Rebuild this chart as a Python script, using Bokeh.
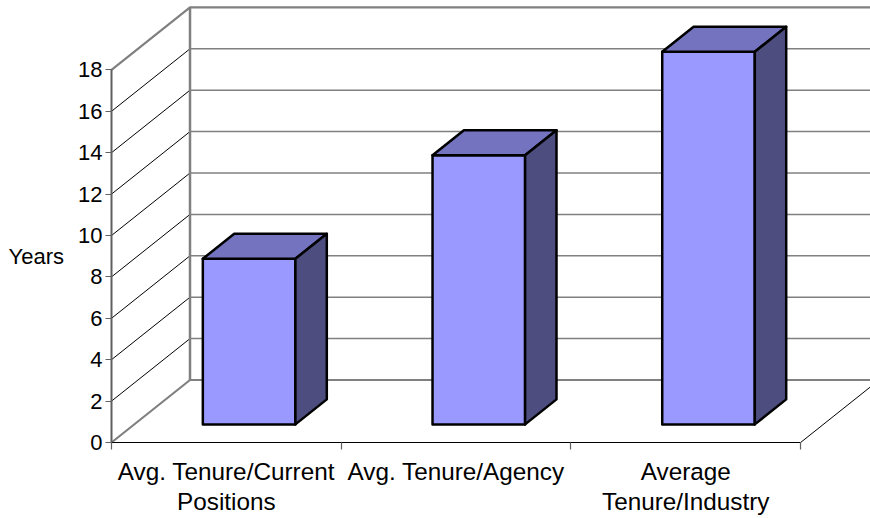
from bokeh.embed import file_html
from bokeh.models import FixedTicker, LinearAxis, Range1d
from bokeh.plotting import figure
from bokeh.resources import INLINE
from bokeh.core.properties import value

categories = ["Avg. Tenure/Current\nPositions", "Avg. Tenure/Agency", "Average\nTenure/Industry"]
years = [8, 13, 18]
value_ticks = [0, 2, 4, 6, 8, 10, 12, 14, 16, 18]
y_title = "Years"

# Pixels per data unit, and the oblique shift of one full unit of chart depth.
X_SCALE, Y_SCALE = 229.7, 20.7
DEPTH_X, DEPTH_Y = 78.5 / X_SCALE, 62.5 / Y_SCALE
BAR_WIDTH = 0.403
BAR_NEAR, BAR_FAR = 0.29, 0.69
FONT = "Liberation Sans"
N = len(categories)
TOP = value_ticks[-1]


def project(x, v, d):
    return x + d * DEPTH_X, v + d * DEPTH_Y


p = figure(width=870, height=518, output_backend="svg", toolbar_location=None,
           x_range=Range1d(-111 / X_SCALE, 759 / X_SCALE),
           y_range=Range1d(-76 / Y_SCALE, 442 / Y_SCALE),
           x_axis_type=None, y_axis_type=None,
           min_border_left=0, min_border_right=0, min_border_top=0, min_border_bottom=0)
p.outline_line_color = None
p.grid.visible = False
p.background_fill_color = "white"

# Side wall rungs and back wall gridlines.
for v in value_ticks[1:-1]:
    a, b = project(0, v, 0), project(0, v, 1)
    p.line([a[0], b[0]], [a[1], b[1]], line_color="#000000", line_width=1)
    c = project(N + 1, v, 1)
    p.line([b[0], c[0]], [b[1], c[1]], line_color="#808080", line_width=1.5)

# Wall frame and floor edges.
for v in (0, TOP):
    a, b = project(0, v, 0), project(0, v, 1)
    c = project(N + 1, v, 1)
    p.line([a[0], b[0], c[0]], [a[1], b[1], c[1]], line_color="#808080", line_width=2.2)
a, b = project(0, 0, 1), project(0, TOP, 1)
p.line([a[0], b[0]], [a[1], b[1]], line_color="#808080", line_width=2.5)
a, b = project(N, 0, 0), project(N, 0, 1)
p.line([a[0], b[0]], [a[1], b[1]], line_color="#000000", line_width=1)

# Three visible faces of each column.
for i, h in enumerate(years):
    left = i + 0.5 - BAR_WIDTH / 2
    right = left + BAR_WIDTH
    faces = [
        ([(left, 0, BAR_NEAR), (right, 0, BAR_NEAR), (right, h, BAR_NEAR), (left, h, BAR_NEAR)], "#9999FF"),
        ([(left, h, BAR_NEAR), (right, h, BAR_NEAR), (right, h, BAR_FAR), (left, h, BAR_FAR)], "#7373BF"),
        ([(right, 0, BAR_NEAR), (right, 0, BAR_FAR), (right, h, BAR_FAR), (right, h, BAR_NEAR)], "#4D4D80"),
    ]
    for corners, color in faces:
        pts = [project(*c) for c in corners]
        p.patch([q[0] for q in pts], [q[1] for q in pts], fill_color=color,
                line_color="#000000", line_width=2.5, line_join="round")

left_axis = LinearAxis(fixed_location=0, ticker=FixedTicker(ticks=value_ticks), bounds=(0, TOP),
                       axis_label=y_title, axis_label_orientation="horizontal",
                       axis_label_standoff=11, axis_label_text_font=FONT,
                       axis_label_text_font_size="22px", axis_label_text_font_style="normal",
                       axis_label_text_color="#000000",
                       axis_line_color="#606060", axis_line_width=2,
                       major_tick_line_color="#606060", major_tick_line_width=1.2,
                       major_tick_in=0, major_tick_out=6, minor_tick_line_color=None,
                       major_label_standoff=3, major_label_text_font=FONT,
                       major_label_text_font_size="22px", major_label_text_color="#000000")
p.add_layout(left_axis, "left")

# Category axis: ticks mark the group boundaries, the names are centred between them.
tick_positions = list(range(N + 1))
bottom_axis = LinearAxis(fixed_location=0, ticker=FixedTicker(ticks=tick_positions), bounds=(0, N),
                         axis_line_color="#000000", axis_line_width=1.2,
                         major_tick_line_color="#606060", major_tick_line_width=1.2,
                         major_tick_in=0, major_tick_out=7, minor_tick_line_color=None,
                         major_label_overrides={t: "" for t in tick_positions})
p.add_layout(bottom_axis, "below")

p.text([i + 0.5 for i in range(N)], [-0.76] * N, text=categories,
       text_font=value(FONT), text_font_size=value("24.3px"), text_color="#000000",
       text_align="center", text_baseline="top", text_line_height=1.11)

open("out.html", "w").write(file_html(p, INLINE))
